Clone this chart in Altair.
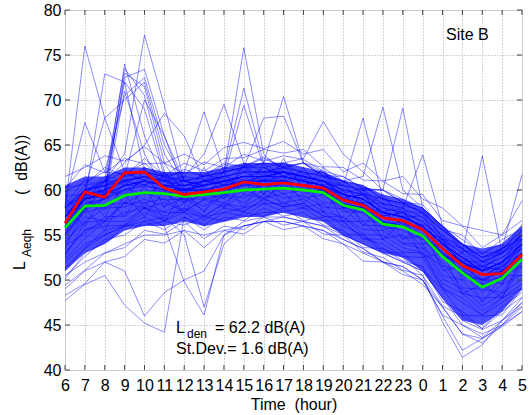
import altair as alt
import pandas as pd

# hour labels along x (index 0..23)
hours = [6, 7, 8, 9, 10, 11, 12, 13, 14, 15, 16, 17, 18, 19, 20, 21, 22, 23, 0, 1, 2, 3, 4, 5]
y_ticks = [40, 45, 50, 55, 60, 65, 70, 75, 80]

# mean curves
red_line = [56.3, 59.8, 59.2, 61.9, 62.0, 60.2, 59.5, 59.8, 60.1, 60.9, 60.6, 60.8, 60.5, 60.2, 58.9, 58.3, 56.9, 56.6, 55.6, 53.5, 51.6, 50.6, 50.7, 52.8]
green_line = [55.8, 58.2, 58.3, 59.4, 59.7, 59.6, 59.3, 59.5, 59.7, 60.0, 60.1, 60.2, 60.0, 59.7, 58.3, 57.8, 56.2, 55.9, 54.9, 52.6, 50.8, 49.2, 50.2, 52.3]

# dense core of the daily profiles
core_lo = [51, 53, 54, 55.5, 56, 56, 56.5, 56, 56.5, 57, 57, 57.5, 57, 56.5, 55, 54, 53, 52.5, 51, 48, 45.5, 45, 46.5, 49]
core_hi = [60.5, 61.5, 61.5, 62.5, 62.5, 62, 62, 62, 62.5, 63, 63, 63, 62.5, 62, 61, 60.5, 59.5, 59, 58, 56, 54, 53.5, 54, 56]

# individual daily profiles
days = [
    [61.5, 62.5, 63.8, 63.2, 64.8, 63, 64, 62.8, 64.7, 65.3, 64.6, 65.4, 64, 64.5, 62, 63, 61, 61.5, 59, 58, 56, 55.5, 55, 58.8],
    [60.2, 62.8, 61.9, 63.5, 62.9, 63, 61.8, 63.1, 62.5, 64, 63.2, 63.8, 63.4, 62.1, 61.5, 60.2, 60, 58.6, 58.4, 55.6, 55, 52.8, 54.5, 55.7],
    [59.8, 60.9, 62, 61.8, 63, 61.2, 62.3, 61.5, 62.8, 62.6, 63.7, 62.4, 63, 61.5, 61, 59.6, 59, 58.2, 57.8, 55.9, 53.2, 53, 53.1, 56.2],
    [58.3, 61.2, 59.6, 61.9, 61.1, 61.8, 60.3, 61.7, 61.2, 62.5, 61.6, 63, 61.7, 62, 59.6, 60.2, 57.6, 58, 56.2, 55, 52.1, 52, 51.7, 55],
    [57.4, 59, 59.8, 59.6, 61.2, 59.5, 60.2, 59.6, 61, 60.6, 61.8, 61, 61.6, 60, 59.6, 58, 57.5, 56.1, 56, 52.6, 52, 49.6, 51.5, 53],
    [56.3, 58.9, 57.8, 60.2, 59.5, 60.6, 58.7, 60.1, 59.6, 61, 60.1, 61, 59.6, 60, 58, 58.6, 56, 56.5, 54.6, 53, 50.5, 50, 50.2, 53],
    [54.6, 57.9, 58.4, 58.5, 59.7, 58.9, 59, 57.7, 59.5, 59.1, 60.5, 59.6, 60, 58.6, 58.5, 56.6, 56.4, 54.6, 54.9, 51.6, 51, 48.6, 50.5, 51.5],
    [54.2, 56.5, 58, 58.1, 59, 58.2, 59.1, 58.2, 59.4, 58.6, 60, 59.1, 59.4, 58.1, 57.9, 56.1, 56, 54.1, 54, 50.5, 50, 47.6, 49.5, 50.6],
    [52.6, 56.4, 56.6, 58.6, 58, 58.6, 57.6, 58.9, 58.1, 59.5, 59.1, 59.6, 58.1, 58.5, 56.5, 56.5, 54.6, 55, 53, 51.5, 48.5, 48, 48.1, 51.6],
    [52.3, 54.6, 56.5, 56.5, 58, 57.1, 58, 56.6, 58, 57.6, 59, 58.1, 58.5, 57.1, 56.5, 54.6, 54.5, 53.1, 53, 49.6, 48.5, 46.6, 48, 49.6],
    [50.4, 52.6, 54.5, 55, 56.5, 55.6, 57, 55.6, 57, 56.6, 58, 57.1, 57.5, 56.1, 55.5, 53.6, 53.5, 52.1, 51.5, 47.6, 46.5, 44.6, 47, 48.6],
    [48.3, 49.6, 52, 52.6, 54.5, 54.1, 55.5, 53.6, 55.5, 55.1, 56.5, 55.6, 56, 54.6, 54, 52.1, 52, 50.6, 50, 46.1, 45, 43.6, 45.5, 47.1],
    [49.4, 51.1, 53, 53.6, 55.5, 55.1, 56.5, 54.6, 56, 55.6, 57, 56.1, 56.5, 55.1, 55, 53.1, 52.5, 51.1, 50.5, 47.1, 46, 44.6, 46.5, 48.1],
    [51.3, 53.6, 55.5, 56.1, 57.5, 56.6, 57.5, 56.1, 57.5, 57.1, 58.5, 57.6, 58, 56.6, 56.5, 54.6, 54, 52.6, 52.5, 49.1, 48, 46.1, 47.5, 49.1],
    [56.1, 59.5, 59, 60.5, 60.6, 61, 59.6, 61, 60.6, 62, 61.1, 62.5, 61.1, 61.5, 59.1, 59.5, 57.1, 57.5, 55.6, 54.5, 51.6, 51.5, 51.1, 54.5],
    [59.3, 59.6, 61.5, 61.1, 62.5, 61.6, 62, 61.6, 63, 62.6, 63.5, 62.6, 63, 61.6, 61.5, 60.1, 60, 58.6, 58, 54.6, 54, 52.1, 53.5, 54.6],
    [55.1, 57.5, 58.1, 59.5, 59.6, 59.5, 58.6, 59.5, 59.1, 61, 59.6, 61, 60.1, 60.5, 58.1, 58, 56.1, 56.5, 54.6, 53.5, 50.6, 50, 49.6, 53],
    [53.9, 55.1, 57, 57.1, 58.5, 57.6, 58.5, 57.1, 58.5, 58.1, 59.5, 58.6, 59, 57.6, 57, 55.6, 55.5, 54, 53.5, 50.1, 49, 47.1, 48.5, 50.1],
    [57.1, 59, 59.6, 61, 60.6, 61.5, 59.6, 61, 60.6, 61.5, 61.1, 62, 60.6, 61, 59.1, 59.5, 57.1, 57.5, 55.6, 54.5, 51.6, 51.5, 51.1, 54],
    [52.9, 55.6, 56, 56.1, 58, 56.6, 58, 57.1, 58.5, 57.6, 59, 58.1, 58.5, 57.1, 57, 55.1, 55, 53.6, 53, 49.1, 47.5, 46.1, 48, 49.1],
    [60.3, 60.6, 62.5, 61.6, 63.5, 61.6, 63, 62.1, 63.5, 63.6, 64.5, 64.1, 64.5, 62.6, 62.5, 61.1, 61, 59.6, 59.5, 56.6, 56, 53.6, 55, 56.6],
    [54.1, 57, 56.6, 58.5, 58.6, 59, 57.6, 59, 58.6, 60, 59.1, 60.5, 59.1, 59.5, 57.6, 57.5, 55.6, 56, 53.6, 52, 49.1, 49, 48.6, 52],
    [58.4, 59.1, 61, 61.1, 61.5, 60.6, 61, 60.6, 61.5, 61.1, 62.5, 61.6, 62, 60.6, 60.5, 58.6, 58.5, 57.1, 57, 54.1, 53.5, 51.1, 53, 54.1],
    [50.1, 53, 54.1, 56, 56.1, 56.5, 56.1, 57, 56.6, 57.5, 57.1, 58, 56.6, 57, 55.1, 55, 53.1, 53, 51.1, 49, 46.1, 46, 46.1, 49],
    [57.9, 59.6, 61, 60.6, 62, 61.1, 61.5, 61.1, 62.5, 62.1, 63, 62.6, 63, 61.6, 61, 59.6, 59, 57.6, 57.5, 54.6, 53.5, 51.6, 53.5, 54.6],
    [59, 57.5, 61, 58.5, 62.5, 58, 61.5, 59, 62, 59.5, 63, 60, 62.5, 59.5, 61, 58, 59.5, 56.5, 57.5, 52.5, 53, 50, 52, 55.5],
    [53.5, 58, 55.5, 59.5, 57, 60, 57.5, 60.5, 58, 61, 58.5, 61.5, 58.5, 60.5, 56.5, 58.5, 54.5, 56.5, 52.5, 53, 48.5, 49.5, 48, 52.5],
    [58, 56, 59.5, 57, 60.5, 56.5, 60, 57.5, 61, 58, 61.5, 58, 61.5, 57.5, 60, 56, 58.5, 54.5, 56, 51, 51.5, 47.5, 50.5, 50.5],
    [55, 59.5, 57, 61, 58, 62, 58.5, 62.5, 59, 63, 59.5, 63.5, 60, 62.5, 58, 60, 56, 58, 54, 54.5, 50, 51.5, 49.5, 54],
    [58, 76, 68, 62, 61, 60.5, 60, 60.5, 61, 61, 61.5, 61.5, 61, 60.5, 59.5, 59, 57.5, 57, 56, 54, 52, 51, 52, 54],
    [56, 59, 60, 74, 66, 61, 60, 60, 60.5, 61, 61, 61, 60.5, 60, 59, 58.5, 57, 56.5, 55.5, 53.5, 52, 50.5, 51, 53],
    [55, 58, 59, 73, 71.5, 63, 59.5, 59.5, 60, 60.5, 60.5, 61, 60.5, 60, 58.5, 58, 56.5, 56, 55, 53, 51.5, 50, 51, 52.5],
    [57, 60, 61, 64, 77.2, 69.4, 61, 60, 60.5, 61, 61, 61.5, 61, 60.5, 59, 58.5, 57, 56.5, 55.5, 53.5, 52, 51, 51.5, 54],
    [56, 59, 72.9, 72, 62, 60, 59.5, 60, 60, 60.5, 61, 61, 60.5, 60, 58.5, 58, 56.5, 56, 55, 53, 51, 50, 51, 53],
    [57, 59.5, 60, 72.5, 73.4, 66, 60, 60, 60.5, 61, 61, 61, 60.5, 60, 59, 58.5, 57, 56.5, 55.5, 53.5, 52, 50.5, 51.5, 53.5],
    [58, 60, 68, 70, 72, 64, 60.5, 60.5, 61, 61.5, 61.5, 61.5, 61, 60.5, 59.5, 59, 57.5, 57, 56, 54, 52.5, 51, 52, 54],
    [55, 58, 59, 71, 64, 60, 59, 59, 59.5, 60, 60.5, 60.5, 60, 59.5, 58, 57.5, 56, 55.5, 54.5, 52.5, 51, 49.5, 50.5, 52.5],
    [56.5, 59, 60, 61.5, 70, 66, 61, 60.5, 61, 61.5, 61.5, 62, 61.5, 61, 59.5, 59, 57.5, 57, 56, 54, 52.5, 51, 52, 54],
    [57, 59, 59.5, 60.5, 61, 60.5, 60, 61, 62, 75.8, 64, 62, 61, 60.5, 59.5, 59, 57.5, 57, 56, 54, 52.5, 51, 52, 53.5],
    [56, 58.5, 59, 60, 60.5, 60, 60, 60.5, 62, 71.3, 63, 61.5, 61, 60, 59, 58.5, 57, 56.5, 55.5, 53.5, 52, 50.5, 51.5, 53],
    [57, 59, 59.5, 60.5, 61, 60.5, 60.5, 61, 61.5, 69.4, 62.5, 61.5, 61, 60.5, 59.5, 59, 57.5, 57, 56, 54, 52.5, 51, 52, 54],
    [58, 60.5, 61, 62, 62, 61.5, 62, 68.7, 62, 62.5, 62.5, 63, 62.5, 62, 60.5, 60, 58.5, 58, 57, 55, 53.5, 52, 53, 55],
    [58, 60, 60.5, 61.5, 62, 61.5, 61, 61.5, 62, 62.5, 63, 70.4, 63, 62.5, 61, 60.5, 59, 58.5, 57.5, 55.5, 54, 52.5, 53.5, 55.5],
    [57.5, 60, 60.5, 61, 61.5, 61, 61, 61.5, 62, 62.5, 68, 68.2, 63, 62, 61, 60.5, 59, 58.5, 57.5, 55.5, 54, 52.5, 53, 55],
    [57, 59.5, 60, 61, 61.5, 61, 61.5, 64, 69.5, 63, 62, 62, 61.5, 61, 60, 59.5, 58, 57.5, 56.5, 54.5, 53, 51.5, 52.5, 54.5],
    [58, 60, 60.5, 61.5, 62, 61.5, 61, 61.5, 62, 62.5, 63, 63, 63.5, 67.6, 64, 62, 60, 59, 58, 56, 54.5, 53, 54, 56],
    [57, 59.5, 60, 61, 61.5, 61, 60.5, 61, 61.5, 62, 62, 62.5, 62, 61.5, 60.5, 68, 59, 58.5, 57.5, 55.5, 54, 52.5, 53.5, 55],
    [58, 60, 60.5, 61, 61.5, 61, 60.5, 61, 61.5, 62, 62, 62.5, 62, 61.5, 61, 61.5, 69.2, 60, 58, 56, 54, 52.5, 53.5, 55.5],
    [57, 59, 59.5, 60.5, 61, 60.5, 60.5, 61, 61.5, 62, 62, 62, 61.5, 61, 60.5, 60, 60, 69.1, 58, 56, 54, 52, 53, 55],
    [56.5, 59, 59.5, 60.5, 61, 60.5, 60, 60.5, 61, 61.5, 61.5, 62, 61.5, 61, 60, 59.5, 58.5, 58, 63.9, 56, 53.5, 52, 53, 54.5],
    [57, 59, 59.5, 60, 61, 60.5, 60, 60.5, 61, 61.5, 61.5, 62, 61.5, 61, 60, 59.5, 58, 57.5, 56.5, 54.5, 53, 63.8, 53, 55],
    [56, 58.5, 59, 60, 60.5, 60, 60, 60.5, 61, 61.5, 61.5, 61.5, 61, 60.5, 59.5, 59, 57.5, 57, 56, 54, 52, 51, 53.5, 61.7],
    [56.5, 59, 61, 73.5, 70.5, 62, 60, 60, 60.5, 61, 61, 61.5, 61, 60.5, 59, 58.5, 57, 56.5, 55.5, 53.5, 52, 51, 52, 53.5],
    [55.5, 58, 60, 72, 69, 61.5, 59.5, 60, 60, 60.5, 61, 61, 60.5, 60, 58.5, 58, 56.5, 56, 55, 53, 51.5, 50, 51, 53],
    [58.5, 67.5, 62, 70.5, 72.5, 65, 61, 60.5, 61, 61.5, 62, 62, 61.5, 61, 59.5, 59, 57.5, 57, 56, 54, 52.5, 51.5, 52.5, 54],
    [57, 60, 61, 63, 65, 68.5, 66, 61, 61, 61.5, 61.5, 62, 61.5, 61, 59.5, 59, 57.5, 57, 56, 54, 52.5, 51, 52, 54],
    [47.7, 49.5, 50.5, 47.2, 45.2, 44.2, 57, 56, 56.5, 57, 57.5, 57.5, 57, 56.5, 55, 54, 53, 52, 51, 48, 45, 44, 45, 47],
    [49, 51, 52, 51, 46, 48.6, 50, 51, 55, 56, 56.5, 56.5, 56, 55.5, 54.5, 53.5, 52, 51.5, 50, 47, 44, 43.5, 45, 47.5],
    [52, 54, 55, 56, 57, 56, 49.8, 46.1, 55, 56.5, 57, 57, 56.5, 56, 55, 54, 53, 52, 51, 48, 45.5, 44.5, 45.5, 48],
    [51, 53.5, 55, 56, 56.5, 57, 55, 47, 54, 56, 56.5, 57, 56.5, 56, 54.5, 53.5, 52, 51.5, 50, 46, 42.2, 43.5, 44.8, 46.5],
    [53, 55.5, 56.5, 57.5, 58, 57.5, 57.5, 57, 57.5, 58, 58.5, 58.5, 58, 57.5, 56, 55, 53.5, 52.5, 50.5, 45.3, 41.4, 42.8, 45.5, 47.5],
    [50.5, 52, 53, 54, 55, 55, 55.5, 55, 55.5, 56, 56.5, 56.5, 56, 55.5, 54, 53, 52, 51, 49.5, 47, 44, 43, 45, 46.5],
]

FONT = "Liberation Sans"
W, H = 457, 360

rows = []
for k, s in enumerate(days):
    for i, v in enumerate(s):
        rows.append({"id": k, "i": i, "v": v})
df_days = pd.DataFrame(rows)

df_mean = pd.DataFrame({
    "i": list(range(len(hours))),
    "red": red_line,
    "green": green_line,
    "lo": core_lo,
    "hi": core_hi,
})
df_xt = pd.DataFrame({"i": list(range(len(hours)))})
df_yt = pd.DataFrame({"v": y_ticks})

label_expr = str(hours) + "[datum.value]"

xscale = alt.Scale(domain=[0, len(hours) - 1], nice=False, zero=False)
yscale = alt.Scale(domain=[40, 80], nice=False, zero=False)

x_axis = alt.Axis(values=list(range(len(hours))), labelExpr=label_expr, title="Time \u00a0(hour)",
                  grid=True, gridDash=[1, 2], gridColor="#a8a8a8", domain=False, ticks=False,
                  labelFont=FONT, labelFontSize=16, labelColor="black", labelPadding=7,
                  labelOverlap=False, labelFlush=False, titleFont=FONT, titleFontSize=16,
                  titleFontWeight="normal", titleColor="black", titlePadding=3)
y_axis = alt.Axis(values=y_ticks, title=None, grid=True, gridDash=[1, 2], gridColor="#a8a8a8",
                  domain=False, ticks=False, labelFont=FONT, labelFontSize=16, labelColor="black",
                  labelPadding=4, labelFlush=False, labelOverlap=False)


def X():
    return alt.X("i:Q", scale=xscale, axis=x_axis)


def Y(field):
    return alt.Y(field + ":Q", scale=yscale, axis=y_axis)


core = alt.Chart(df_mean).mark_area(color="#0000ff", opacity=0.7).encode(
    x=X(), y=Y("lo"), y2="hi:Q",
)

lines = alt.Chart(df_days).mark_line(color="#0000ff", opacity=0.5, strokeWidth=0.9).encode(
    x=X(), y=Y("v"), detail="id:N",
)

green = alt.Chart(df_mean).mark_line(color="#00ee00", strokeWidth=2.8).encode(x=X(), y=Y("green"))
red = alt.Chart(df_mean).mark_line(color="#ff0000", strokeWidth=2.8).encode(x=X(), y=Y("red"))

tick_color = "#444444"
xt_bottom = alt.Chart(df_xt).mark_rule(color=tick_color).encode(x=X(), y=alt.value(H), y2=alt.value(H - 5))
xt_top = alt.Chart(df_xt).mark_rule(color=tick_color).encode(x=X(), y=alt.value(0), y2=alt.value(5))
yt_left = alt.Chart(df_yt).mark_rule(color=tick_color).encode(y=Y("v"), x=alt.value(0), x2=alt.value(5))
yt_right = alt.Chart(df_yt).mark_rule(color=tick_color).encode(y=Y("v"), x=alt.value(W), x2=alt.value(W - 5))

one = pd.DataFrame({"a": [0]})


def txt(text, x, y, size=16, angle=0, baseline="alphabetic"):
    return alt.Chart(one).mark_text(text=text, font=FONT, fontSize=size, color="black",
                                    align="left", baseline=baseline, angle=angle).encode(
        x=alt.value(x), y=alt.value(y))


texts = [
    txt("Site B", 381, 30),
    txt("L", 111, 323),
    txt("den", 122, 328, size=12),
    txt("= 62.2 dB(A)", 150, 323),
    txt("St.Dev.= 1.6 dB(A)", 111, 344),
    txt("L", -40, 260, angle=270),
    txt("Aeqh", -34, 247, size=12, angle=270),
    txt("(\u00a0\u00a0dB(A))", -38, 185, angle=270),
]

chart = alt.layer(core, lines, green, red, xt_bottom, xt_top, yt_left, yt_right, *texts).properties(
    width=W, height=H,
    padding={"left": 65, "top": 10, "right": 9, "bottom": 45},
    autosize=alt.AutoSizeParams(type="none"),
).configure_view(stroke="#444444", strokeWidth=1).configure(background="white")

chart.save("out.html", embed_options={"renderer": "svg", "actions": False})
